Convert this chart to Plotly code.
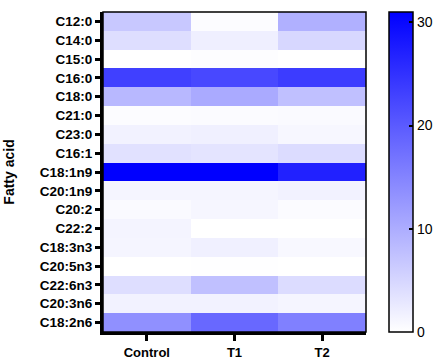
import plotly.graph_objects as go

fatty_acids = ["C12:0", "C14:0", "C15:0", "C16:0", "C18:0", "C21:0", "C23:0", "C16:1",
               "C18:1n9", "C20:1n9", "C20:2", "C22:2", "C18:3n3", "C20:5n3", "C22:6n3",
               "C20:3n6", "C18:2n6"]
groups = ["Control", "T1", "T2"]

control = [6.7, 4.0, 0.0, 23.2, 8.6, 0.4, 1.6, 3.6, 31.0, 1.2, 0.6, 1.3, 1.2, 0.0, 4.0, 1.6, 13.5]
t1 = [0.4, 2.0, 0.2, 22.2, 10.3, 0.5, 1.8, 3.3, 31.0, 1.2, 1.1, 0.0, 1.8, 0.1, 7.7, 1.6, 18.4]
t2 = [9.6, 4.9, 0.0, 23.7, 7.7, 0.6, 1.0, 4.3, 27.0, 1.6, 0.5, 0.0, 0.9, 0.0, 4.3, 1.2, 15.4]

cbar_ticks = [0, 10, 20, 30]
zmin, zmax = 0, 31

z = [[c, a, b] for c, a, b in zip(control, t1, t2)]

FONT = "Liberation Sans, Arial, sans-serif"

fig = go.Figure(go.Heatmap(
    z=z, x=groups, y=fatty_acids,
    colorscale=[[0, "rgb(255,255,255)"], [1, "rgb(0,0,255)"]],
    zmin=zmin, zmax=zmax,
    xgap=0, ygap=0,
    colorbar=dict(
        x=1.0875, xanchor="left", y=0.5, yanchor="middle",
        len=1, lenmode="fraction", thickness=24, thicknessmode="pixels",
        xpad=0, ypad=0,
        outlinewidth=1.5, outlinecolor="black",
        tickvals=cbar_ticks, ticks="inside", ticklen=4, tickwidth=2, tickcolor="black",
        tickfont=dict(family=FONT, size=14, color="black"),
    ),
))

shapes = [dict(type="rect", xref="paper", yref="paper", x0=0, x1=1, y0=0, y1=1,
               line=dict(color="black", width=1.5), layer="above")]
# left-side inner ticks of colorbar
cb_x0 = 1.0875
px_per_paper = 1 / 263.0
for v in cbar_ticks[1:]:
    yy = v / zmax
    shapes.append(dict(type="line", xref="paper", yref="paper",
                       x0=cb_x0, x1=cb_x0 + 4 * px_per_paper, y0=yy, y1=yy,
                       line=dict(color="black", width=2)))

fig.update_layout(
    width=438, height=360,
    margin=dict(l=103, r=72, t=12, b=28, autoexpand=False),
    paper_bgcolor="white", plot_bgcolor="white",
    font=dict(family=FONT, color="black"),
    shapes=shapes,
    xaxis=dict(
        showline=True, linewidth=3, linecolor="black",
        ticks="outside", ticklen=6, tickwidth=3, tickcolor="black",
        tickfont=dict(family=FONT, size=13, color="black", weight="bold"),
        showgrid=False, zeroline=False,
    ),
    yaxis=dict(
        autorange="reversed",
        showline=True, linewidth=3, linecolor="black",
        ticks="outside", ticklen=5, tickwidth=3, tickcolor="black",
        tickfont=dict(family=FONT, size=13.5, color="black", weight="bold"),
        showgrid=False, zeroline=False,
        title=dict(text="Fatty acid", font=dict(family=FONT, size=14, color="black", weight="bold"),
                   standoff=22),
    ),
)

fig.write_html("out.html", config={"displayModeBar": False},
               post_script="document.body.style.margin='0';")
